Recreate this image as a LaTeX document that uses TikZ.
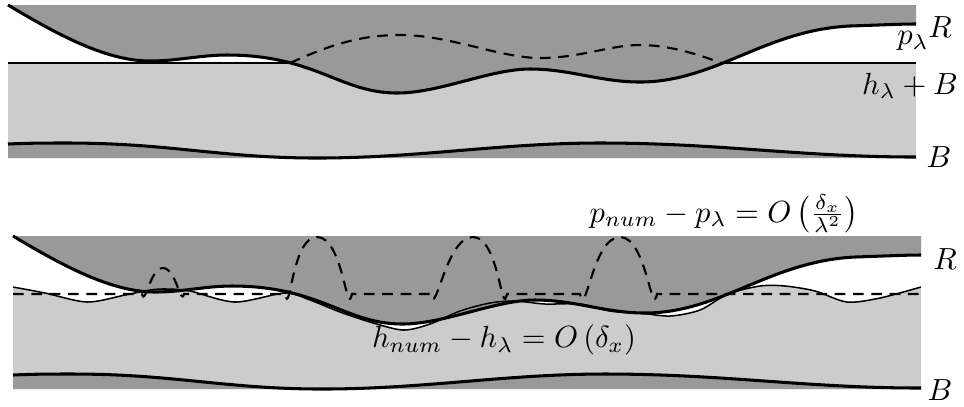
\documentclass[tikz,border=0pt]{standalone}
\usepackage{amsmath}
\usepackage{xcolor}
\usepackage{tikz}
\usetikzlibrary{calc,positioning}
\definecolor{DarkFill}{RGB}{153,153,153}
\definecolor{LightFill}{RGB}{204,204,204}
\newcommand{\wallR}{(8,5) .. controls (55,33) and (105,61) .. (150,61)
	.. controls (178,61) and (200,55) .. (227,55)
	.. controls (315,55) and (340,93) .. (397,93)
	.. controls (440,93) and (490,69) .. (530,69)
	.. controls (570,69) and (600,82) .. (640,82)
	.. controls (715,82) and (765,30) .. (850,26)
	.. controls (880,25) and (900,24) .. (916,24)}
\newcommand{\wallB}{(8,144) .. controls (30,143) and (45,143) .. (67,143)
	.. controls (170,143) and (220,158) .. (317,158)
	.. controls (420,158) and (500,143) .. (600,143)
	.. controls (720,143) and (800,157) .. (916,157)}

\begin{document}
\begin{tikzpicture}[x=0.0115cm, y=-0.0115cm,
	wall/.style={line width=1pt},
	level/.style={line width=0.7pt},
	numline/.style={line width=0.5pt},
	presline/.style={line width=0.7pt, dash pattern=on 3.5pt off 2.5pt}]
	\useasboundingbox (0,0) rectangle (964,406);
	% upper panel
	\fill[LightFill] (8,63) rectangle (916,158);
	\draw[level] (8,63) -- (916,63);
	\fill[DarkFill] \wallR -- (916,5) -- cycle;
	\fill[DarkFill] \wallB -- (916,158) -- (8,158) -- cycle;
	\draw[presline] (290,63) .. controls (330,45) and (360,35) .. (400,35)
		.. controls (450,35) and (500,58) .. (540,58)
		.. controls (580,58) and (610,45) .. (640,45)
		.. controls (670,45) and (700,55) .. (721,63);
	\draw[wall] \wallR;
	\draw[wall] \wallB;
	\node (Rtop) at (940,27) {$R$};
	\node (pltop) at (913,41) {$p_\lambda$};
	\node (hBtop) at (910,86) {$h_\lambda + B$};
	\node (Btop) at (939,157) {$B$};
	% lower panel
	\begin{scope}[shift={(5,231)}]
		\fill[LightFill] plot[smooth] coordinates {(8,56) (40,62) (82,71) (120,64) (145,59) (162,58) (185,60) (230,71) (280,62) (305,69) (335,81) (365,91) (398,99) (425,93) (455,80) (485,72) (510,70) (540,73) (575,73) (605,80) (635,82) (665,85) (695,79) (723,63) (755,55) (780,55) (810,60) (842,71) (875,67) (916,56)} -- (916,158) -- (8,158) -- cycle;
		\fill[DarkFill] \wallR -- (916,5) -- cycle;
		\fill[DarkFill] \wallB -- (916,158) -- (8,158) -- cycle;
		\draw[presline] (8,63) -- (137,63) to[out=-75,in=180] (158,37) to[out=0,in=-105] (179,63)
			-- (280,63) to[out=-78,in=180] (312,6) to[out=0,in=-102] (347,63)
			-- (425,63) to[out=-78,in=180] (468,6) to[out=0,in=-102] (502,63)
			-- (575,63) to[out=-78,in=180] (615,6) to[out=0,in=-102] (652,63) -- (916,63);
		\draw[numline] plot[smooth] coordinates {(8,56) (40,62) (82,71) (120,64) (145,59) (162,58) (185,60) (230,71) (280,62) (305,69) (335,81) (365,91) (398,99) (425,93) (455,80) (485,72) (510,70) (540,73) (575,73) (605,80) (635,82) (665,85) (695,79) (723,63) (755,55) (780,55) (810,60) (842,71) (875,67) (916,56)};
		\draw[wall] \wallR;
		\draw[wall] \wallB;
	\end{scope}
	\node (Rbot) at (945,259) {$R$};
	\node (Bbot) at (940,390) {$B$};
	\node (perr) at (724,214) {$p_{num} - p_\lambda = O\left(\frac{\delta_x}{\lambda^2}\right)$};
	\node (herr) at (504,340) {$h_{num} - h_\lambda = O\left(\delta_x\right)$};
\end{tikzpicture}
\end{document}
